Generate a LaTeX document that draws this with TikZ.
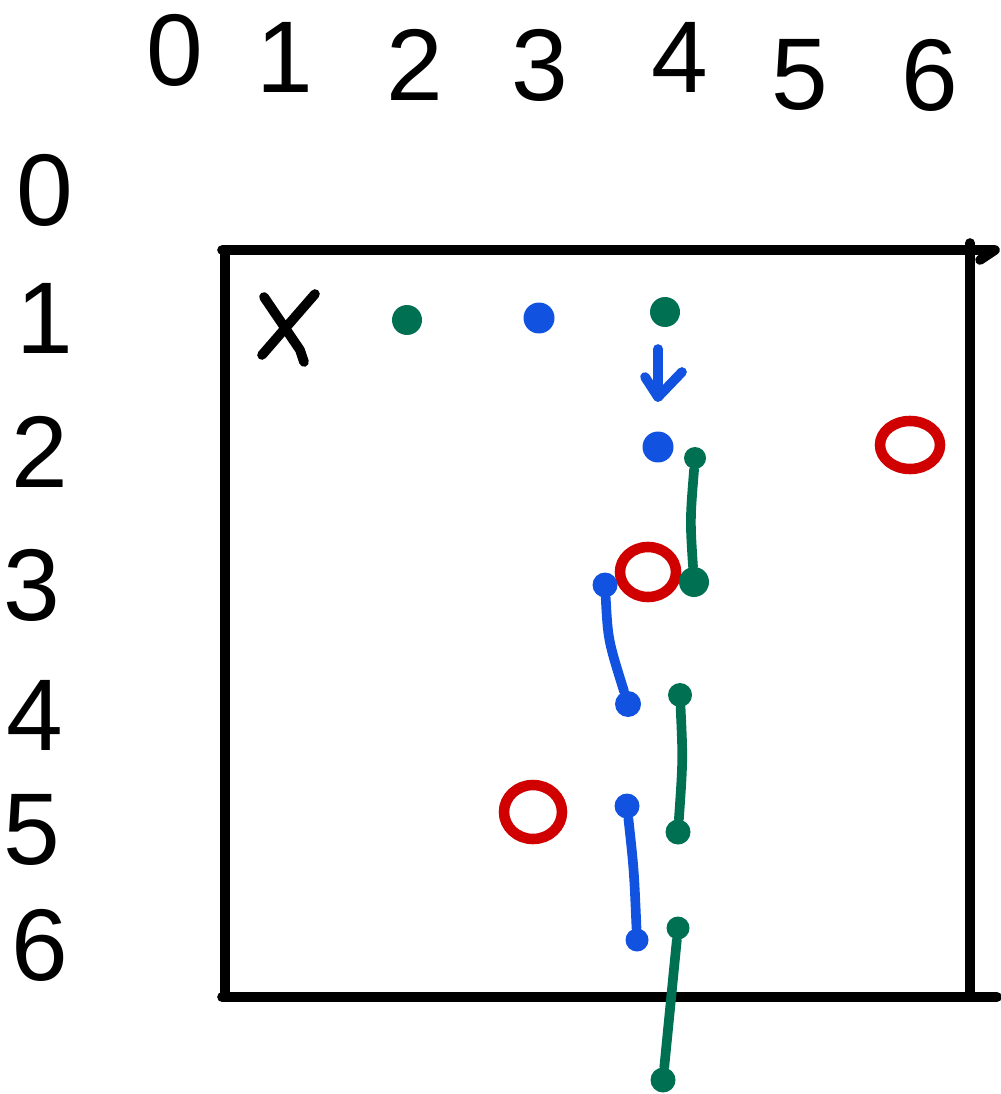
\documentclass[tikz,border=0pt]{standalone}
\usepackage{fontspec}
\setmainfont{Liberation Sans}
\definecolor{sketchgreen}{RGB}{0,112,82}
\definecolor{sketchblue}{RGB}{18,82,224}
\definecolor{sketchred}{RGB}{208,0,0}
\newcommand*{\penw}{5.5pt}
\newcommand*{\digitsize}{\fontsize{58}{60}\selectfont}

\begin{document}
\begin{tikzpicture}
[
	x=0.02cm, y=-0.02cm,
	label/.style={inner sep=0pt,font=\digitsize},
	gdot/.style={circle,fill=sketchgreen,inner sep=0pt,minimum size=0.6cm},
	bdot/.style={circle,fill=sketchblue,inner sep=0pt,minimum size=0.62cm},
	ring/.style={draw=sketchred,line width=6pt},
	pen/.style={line width=\penw,line cap=round,line join=round}
]

	\useasboundingbox (0,0) rectangle (1000,1094);

	% column numbers
	\node[label] (c0) at (175,50) {0};
	\node[label] (c1) at (285,57) {1};
	\node[label] (c2) at (415,65) {2};
	\node[label] (c3) at (540,65) {3};
	\node[label] (c4) at (680,57) {4};
	\node[label] (c5) at (800,75) {5};
	\node[label] (c6) at (930,75) {6};

	% row numbers
	\node[label] (r0) at (45,190) {0};
	\node[label] (r1) at (45,318) {1};
	\node[label] (r2) at (40,452) {2};
	\node[label] (r3) at (32,585) {3};
	\node[label] (r4) at (35,715) {4};
	\node[label] (r5) at (32,830) {5};
	\node[label] (r6) at (40,945) {6};

	% board
	\draw[pen] (222,250) -- (995,250) -- (980,260);
	\draw[pen] (970,243) -- (970,995);
	\draw[pen] (222,997) -- (997,997);
	\draw[pen] (225,250) -- (225,997);

	% start
	\draw[pen] (264,297) -- (300,350) -- (304,362);
	\draw[pen] (315,294) -- (262,355);

	% walls
	\draw[ring] (648,572) ellipse (28 and 25);
	\draw[ring] (910,445) ellipse (30 and 24);
	\draw[ring] (533,812) ellipse (29 and 27);

	% first row
	\node[gdot] (g1) at (407,320) {};
	\node[bdot] (b1) at (539,318) {};
	\node[gdot] (g2) at (665,312) {};
	\node[bdot] (b2) at (658,447) {};
	\draw[pen,sketchblue] (658,349) -- (658,397);
	\draw[pen,sketchblue] (645,377) -- (658,397) -- (682,372);

	% moves
	\node[gdot,minimum size=0.44cm] (g3) at (695,458) {};
	\node[gdot] (g4) at (694,582) {};
	\draw[pen,sketchgreen] (g3) .. controls (690,520) .. (g4);

	\node[bdot,minimum size=0.5cm] (b3) at (605,585) {};
	\node[bdot,minimum size=0.52cm] (b4) at (628,704) {};
	\draw[pen,sketchblue] (b3) .. controls (608,640) .. (b4);

	\node[gdot,minimum size=0.48cm] (g5) at (680,695) {};
	\node[gdot,minimum size=0.5cm] (g6) at (678,832) {};
	\draw[pen,sketchgreen] (g5) .. controls (683,760) .. (g6);

	\node[bdot,minimum size=0.5cm] (b5) at (627,806) {};
	\node[bdot,minimum size=0.46cm] (b6) at (637,940) {};
	\draw[pen,sketchblue] (b5) .. controls (634,870) .. (b6);

	\node[gdot,minimum size=0.46cm] (g7) at (678,928) {};
	\node[gdot,minimum size=0.5cm] (g8) at (663,1080) {};
	\draw[pen,sketchgreen] (g7) -- (g8);

\end{tikzpicture}
\end{document}
